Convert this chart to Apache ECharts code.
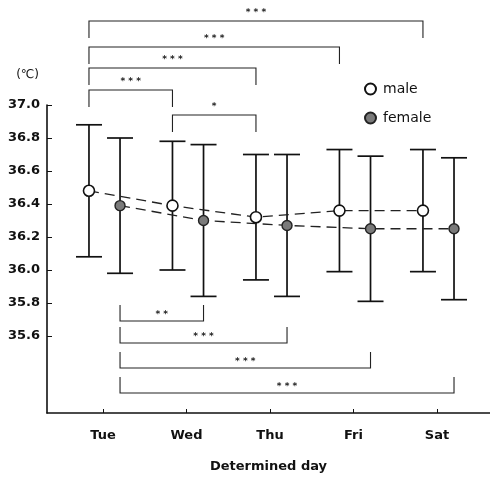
<!DOCTYPE html>
<html>
<head>
<meta charset="utf-8">
<script src="https://cdn.jsdelivr.net/npm/echarts@6/dist/echarts.min.js"></script>
<style>
  html, body { margin: 0; padding: 0; background: #fff; }
  #chart { width: 490px; height: 477px; }
</style>
</head>
<body>
<div id="chart"></div>
<script>
// Body temperature by determined day (mean ± SD)
const days = ['Tue', 'Wed', 'Thu', 'Fri', 'Sat'];
const maleMean = [36.48, 36.39, 36.32, 36.36, 36.36];
const maleSD = [0.40, 0.39, 0.38, 0.37, 0.37];
const femaleMean = [36.39, 36.30, 36.27, 36.25, 36.25];
const femaleSD = [0.41, 0.46, 0.43, 0.44, 0.43];
const yTicks = [35.6, 35.8, 36.0, 36.2, 36.4, 36.6, 36.8, 37.0];

// significance brackets: [from day, to day, stars]
const maleBrackets = [
  ['Tue', 'Sat', '* * *'],
  ['Tue', 'Fri', '* * *'],
  ['Tue', 'Thu', '* * *'],
  ['Tue', 'Wed', '* * *'],
  ['Wed', 'Thu', '*']
];
const femaleBrackets = [
  ['Tue', 'Wed', '* *'],
  ['Tue', 'Thu', '* * *'],
  ['Tue', 'Fri', '* * *'],
  ['Tue', 'Sat', '* * *']
];

// horizontal placement of each sex within a day slot
const MALE_SHIFT = -0.168;
const FEMALE_SHIFT = 0.204;

const FONT = 'DejaVu Sans';
const INK = '#111';

const idx = d => days.indexOf(d);

function errorData(mean, sd, shift) {
  return mean.map((m, i) => [i + shift, +(m - sd[i]).toFixed(2), +(m + sd[i]).toFixed(2)]);
}
function pointData(mean, shift) {
  return mean.map((m, i) => [i + shift, m]);
}

function renderErrorBar(params, api) {
  const x = api.value(0);
  const lo = api.coord([x, api.value(1)]);
  const hi = api.coord([x, api.value(2)]);
  const half = 13;
  const style = { stroke: INK, lineWidth: 1.7, fill: null };
  return {
    type: 'group',
    children: [
      { type: 'line', shape: { x1: lo[0], y1: lo[1], x2: hi[0], y2: hi[1] }, style },
      { type: 'line', shape: { x1: hi[0] - half, y1: hi[1], x2: hi[0] + half, y2: hi[1] }, style },
      { type: 'line', shape: { x1: lo[0] - half, y1: lo[1], x2: lo[0] + half, y2: lo[1] }, style }
    ]
  };
}

// bracket rows above the plot (offsets from the grid top) and below (from the grid bottom)
const TOP_ROWS = [-84, -58, -37, -15, 10];
const BOTTOM_ROWS = [92, 70, 45, 20];

function makeBracketRenderer(list, above) {
  return function (params, api) {
    const i = params.dataIndex;
    const cs = params.coordSys;
    const a = api.coord([api.value(0), 36])[0];
    const b = api.coord([api.value(1), 36])[0];
    let yLine, yLeg, yText;
    if (above) {
      yLine = cs.y + TOP_ROWS[i];
      yLeg = yLine + 17;
      yText = yLine - 8;
    } else {
      yLine = cs.y + cs.height - BOTTOM_ROWS[i];
      yLeg = yLine - 16;
      yText = yLine - 6;
    }
    const style = { stroke: '#222', lineWidth: 1.1, fill: null };
    return {
      type: 'group',
      children: [
        { type: 'polyline', shape: { points: [[a, yLeg], [a, yLine], [b, yLine], [b, yLeg]] }, style },
        {
          type: 'text',
          style: {
            x: (a + b) / 2, y: yText, text: list[i][2],
            font: 'bold 9px ' + FONT, fill: '#222',
            align: 'center', verticalAlign: 'middle'
          }
        }
      ]
    };
  };
}

const chart = echarts.init(document.getElementById('chart'), null, { renderer: 'canvas' });

chart.setOption({
  animation: false,
  backgroundColor: '#fff',
  grid: { left: 47, right: 0, top: 105, bottom: 64, outerBoundsMode: 'none', containLabel: false },
  legend: {
    data: ['male', 'female'],
    orient: 'vertical',
    left: 359,
    top: 77,
    icon: 'circle',
    itemWidth: 11,
    itemHeight: 11,
    itemGap: 15,
    textStyle: { fontFamily: FONT, fontSize: 14, color: INK, padding: [0, 0, 0, 2] }
  },
  xAxis: {
    type: 'value',
    min: -0.6707,
    max: 4.635,
    name: 'Determined day',
    nameLocation: 'middle',
    nameGap: 47,
    nameTextStyle: { fontFamily: FONT, fontSize: 13, fontWeight: 'bold', color: INK },
    splitLine: { show: false },
    axisLine: { show: true, onZero: false, lineStyle: { color: INK, width: 1.5 } },
    axisTick: { show: true, inside: true, length: 4, customValues: [0, 1, 2, 3, 4], lineStyle: { color: INK } },
    axisLabel: {
      customValues: [0, 1, 2, 3, 4],
      formatter: v => days[Math.round(v)],
      margin: 16,
      fontFamily: FONT, fontSize: 13, fontWeight: 'bold', color: INK
    }
  },
  yAxis: {
    type: 'value',
    min: 35.1333,
    max: 37.0,
    name: '(℃)',
    nameLocation: 'end',
    nameGap: 24,
    nameTextStyle: { fontFamily: FONT, fontSize: 12, color: INK, align: 'right', padding: [0, 8, 0, 0] },
    splitLine: { show: false },
    axisLine: { show: true, onZero: false, lineStyle: { color: INK, width: 1.6 } },
    axisTick: { show: true, inside: true, length: 5, customValues: yTicks, lineStyle: { color: INK } },
    axisLabel: {
      customValues: yTicks,
      formatter: v => v.toFixed(1),
      margin: 7,
      fontFamily: FONT, fontSize: 13, fontWeight: 'bold', color: INK
    }
  },
  series: [
    {
      name: 'male-sd', type: 'custom', z: 2, silent: true,
      renderItem: renderErrorBar,
      encode: { x: 0, y: [1, 2] },
      data: errorData(maleMean, maleSD, MALE_SHIFT)
    },
    {
      name: 'female-sd', type: 'custom', z: 2, silent: true,
      renderItem: renderErrorBar,
      encode: { x: 0, y: [1, 2] },
      data: errorData(femaleMean, femaleSD, FEMALE_SHIFT)
    },
    {
      name: 'male', type: 'line', z: 5,
      symbol: 'circle', symbolSize: 11,
      itemStyle: { color: '#fff', borderColor: INK, borderWidth: 1.6 },
      lineStyle: { color: '#222', width: 1.3, type: [10, 6] },
      data: pointData(maleMean, MALE_SHIFT)
    },
    {
      name: 'female', type: 'line', z: 5,
      symbol: 'circle', symbolSize: 10,
      itemStyle: { color: '#7a7a7a', borderColor: '#222', borderWidth: 1.4 },
      lineStyle: { color: '#222', width: 1.3, type: [10, 6] },
      data: pointData(femaleMean, FEMALE_SHIFT)
    },
    {
      name: 'male-sig', type: 'custom', clip: false, silent: true,
      renderItem: makeBracketRenderer(maleBrackets, true),
      encode: { x: [0, 1], y: 2 },
      data: maleBrackets.map(b => [idx(b[0]) + MALE_SHIFT, idx(b[1]) + MALE_SHIFT, 36])
    },
    {
      name: 'female-sig', type: 'custom', clip: false, silent: true,
      renderItem: makeBracketRenderer(femaleBrackets, false),
      encode: { x: [0, 1], y: 2 },
      data: femaleBrackets.map(b => [idx(b[0]) + FEMALE_SHIFT, idx(b[1]) + FEMALE_SHIFT, 36])
    }
  ]
});
</script>
</body>
</html>
